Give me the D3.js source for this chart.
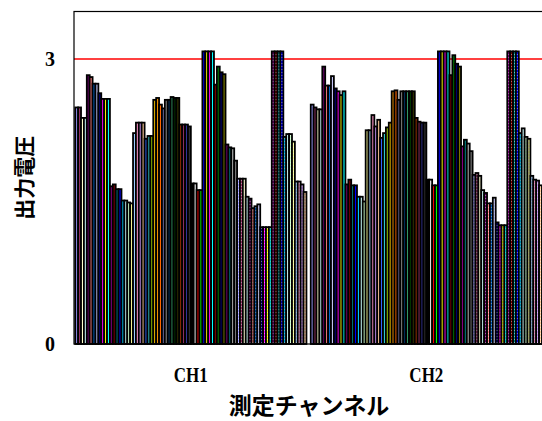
<!DOCTYPE html>
<html>
<head>
<meta charset="utf-8">
<script src="https://d3js.org/d3.v7.min.js"></script>
<style>
  body { margin: 0; background: #fff; }
  svg { display: block; }
</style>
</head>
<body>
<script>
  // channels on the x axis, one bar per measurement series inside each
  var channels = ["CH1", "CH2"];

  var ch1Values = [
    2.49, 2.49, 2.38, 2.38, 2.83, 2.81, 2.74, 2.74, 2.64, 2.58,
    2.58, 2.58, 1.66, 1.68, 1.63, 1.63, 1.51, 1.51, 1.49, 1.48,
    2.22, 2.33, 2.33, 2.33, 2.16, 2.19, 2.19, 2.57, 2.59, 2.52,
    2.48, 2.57, 2.57, 2.60, 2.59, 2.59, 2.31, 2.31, 2.31, 2.29,
    1.69, 1.69, 1.62, 1.62, 3.08, 3.08, 3.08, 3.08, 2.73, 2.92,
    2.86, 2.84, 2.10, 2.07, 2.06, 1.93, 1.74, 1.74, 1.74, 1.55,
    1.53, 1.43, 1.45, 1.47, 1.23, 1.23, 1.23, 1.23, 3.08, 3.08,
    3.08, 3.08, 2.18, 2.21, 2.21, 2.13, 1.71, 1.71, 1.68, 1.60
  ];

  var ch2Values = [
    2.52, 2.49, 2.47, 2.47, 2.92, 2.72, 2.72, 2.82, 2.69, 2.66,
    2.62, 2.66, 1.68, 1.73, 1.67, 1.67, 1.55, 1.55, 1.50, 2.25,
    2.25, 2.41, 2.29, 2.36, 2.17, 2.22, 2.28, 2.33, 2.66, 2.67,
    2.57, 2.66, 2.66, 2.66, 2.66, 2.66, 2.38, 2.34, 2.33, 2.33,
    1.73, 1.73, 1.67, 1.67, 3.08, 3.08, 3.08, 3.08, 2.83, 3.04,
    2.95, 2.92, 2.08, 2.15, 2.11, 2.03, 1.78, 1.80, 1.77, 1.62,
    1.59, 1.48, 1.48, 1.54, 1.28, 1.25, 1.25, 1.25, 3.08, 3.08,
    3.08, 3.08, 2.22, 2.27, 2.18, 2.16, 1.77, 1.73, 1.72, 1.67
  ];

  var yTicks = [0, 3];
  var limitValue = 3;
  var yTitle = "出力電圧";
  var xTitle = "測定チャンネル";

  // default spreadsheet series colours
  var chartPalette = ["#9999FF","#993366","#FFFFCC","#CCFFFF","#660066","#FF8080","#0066CC","#CCCCFF",
    "#000080","#FF00FF","#FFFF00","#00FFFF","#800080","#800000","#008080","#0000FF",
    "#00CCFF","#CCFFFF","#CCFFCC","#FFFF99","#99CCFF","#FF99CC","#CC99FF","#FFCC99",
    "#3366FF","#33CCCC","#99CC00","#FFCC00","#FF9900","#FF6600","#666699","#969696",
    "#003366","#339966","#003300","#333300","#993300","#993366","#333399","#333333"];
  var basicPalette = ["#000000","#FFFFFF","#FF0000","#00FF00","#0000FF","#FFFF00","#FF00FF","#00FFFF",
    "#800000","#008000","#000080","#808000","#800080","#008080","#C0C0C0","#808080"];

  var W = 542, H = 421;
  var plotLeft = 74, plotRight = 544, plotTop = 11.5, plotBottom = 344;

  var svg = d3.select("body").append("svg")
    .attr("width", W)
    .attr("height", H);

  var defs = svg.append("defs");

  var seriesIdx = d3.range(ch1Values.length);

  function seriesFill(i) {
    if (i < 40) return chartPalette[i];
    if (i < 56) return basicPalette[i - 40];
    // later series repeat the colours with a dotted pattern
    var id = "dots" + i;
    var p = defs.append("pattern")
      .attr("id", id)
      .attr("patternUnits", "userSpaceOnUse")
      .attr("width", 3)
      .attr("height", 3);
    p.append("rect").attr("width", 3).attr("height", 3).attr("fill", chartPalette[i - 56]);
    p.append("rect").attr("width", 3).attr("height", 1).attr("fill", "#fff").attr("opacity", 0.45);
    return "url(#" + id + ")";
  }
  var fills = seriesIdx.map(seriesFill);

  var x0 = d3.scaleBand()
    .domain(channels)
    .range([73.1, 544.1])
    .paddingInner(0.0183)
    .paddingOuter(0.0091);

  var x1 = d3.scaleBand()
    .domain(seriesIdx)
    .range([0, x0.bandwidth()]);

  var y = d3.scaleLinear()
    .domain([0, 3.5])
    .range([plotBottom, plotTop]);

  var table = channels.map(function(c, k) {
    return { channel: c, values: [ch1Values, ch2Values][k] };
  });

  // limit line sits behind the bars
  svg.append("line")
    .attr("x1", plotLeft)
    .attr("x2", plotRight)
    .attr("y1", y(limitValue))
    .attr("y2", y(limitValue))
    .attr("stroke", "#ff0000")
    .attr("stroke-width", 1.5);

  var groups = svg.selectAll(".grp")
    .data(table)
    .enter()
    .append("g")
    .attr("class", "grp")
    .attr("transform", function(d) { return "translate(" + x0(d.channel) + ",0)"; });

  groups.selectAll("rect")
    .data(function(d) { return d.values.map(function(v, i) { return { i: i, v: v }; }); })
    .enter()
    .append("rect")
    .attr("x", function(d) { return x1(d.i); })
    .attr("y", function(d) { return y(d.v); })
    .attr("width", x1.bandwidth())
    .attr("height", function(d) { return plotBottom - y(d.v); })
    .attr("fill", function(d) { return fills[d.i]; })
    .attr("stroke", "#000")
    .attr("stroke-width", 1.8);

  // plot frame
  svg.append("rect")
    .attr("x", plotLeft)
    .attr("y", plotTop)
    .attr("width", plotRight - plotLeft)
    .attr("height", plotBottom - plotTop)
    .attr("fill", "none")
    .attr("stroke", "#000")
    .attr("stroke-width", 1.2);

  var xAxis = svg.append("g")
    .attr("transform", "translate(0," + plotBottom + ")")
    .call(d3.axisBottom(x0).tickSize(0).tickPadding(24));
  xAxis.select(".domain").remove();
  xAxis.selectAll("text")
    .attr("font-family", "'Liberation Serif', serif")
    .attr("font-weight", "bold")
    .attr("font-size", 20)
    .attr("textLength", 34)
    .attr("lengthAdjust", "spacingAndGlyphs")
    .attr("fill", "#000");

  var yAxis = svg.append("g")
    .attr("transform", "translate(" + plotLeft + ",0)")
    .call(d3.axisLeft(y).tickValues(yTicks).tickFormat(d3.format("d")).tickSize(0).tickPadding(19));
  yAxis.select(".domain").remove();
  yAxis.selectAll("text")
    .attr("font-family", "'Liberation Serif', serif")
    .attr("font-weight", "bold")
    .attr("font-size", 20)
    .attr("fill", "#000");

  svg.append("text")
    .text(yTitle)
    .attr("transform", "translate(23," + ((plotTop + plotBottom) / 2) + ") rotate(-90)")
    .attr("text-anchor", "middle")
    .attr("dominant-baseline", "central")
    .attr("font-family", "'Noto Sans CJK JP', sans-serif")
    .attr("font-weight", "bold")
    .attr("font-size", 21);

  svg.append("text")
    .text(xTitle)
    .attr("x", 309)
    .attr("y", 414)
    .attr("text-anchor", "middle")
    .attr("font-family", "'Noto Sans CJK JP', sans-serif")
    .attr("font-weight", "bold")
    .attr("font-size", 23);
</script>
</body>
</html>
